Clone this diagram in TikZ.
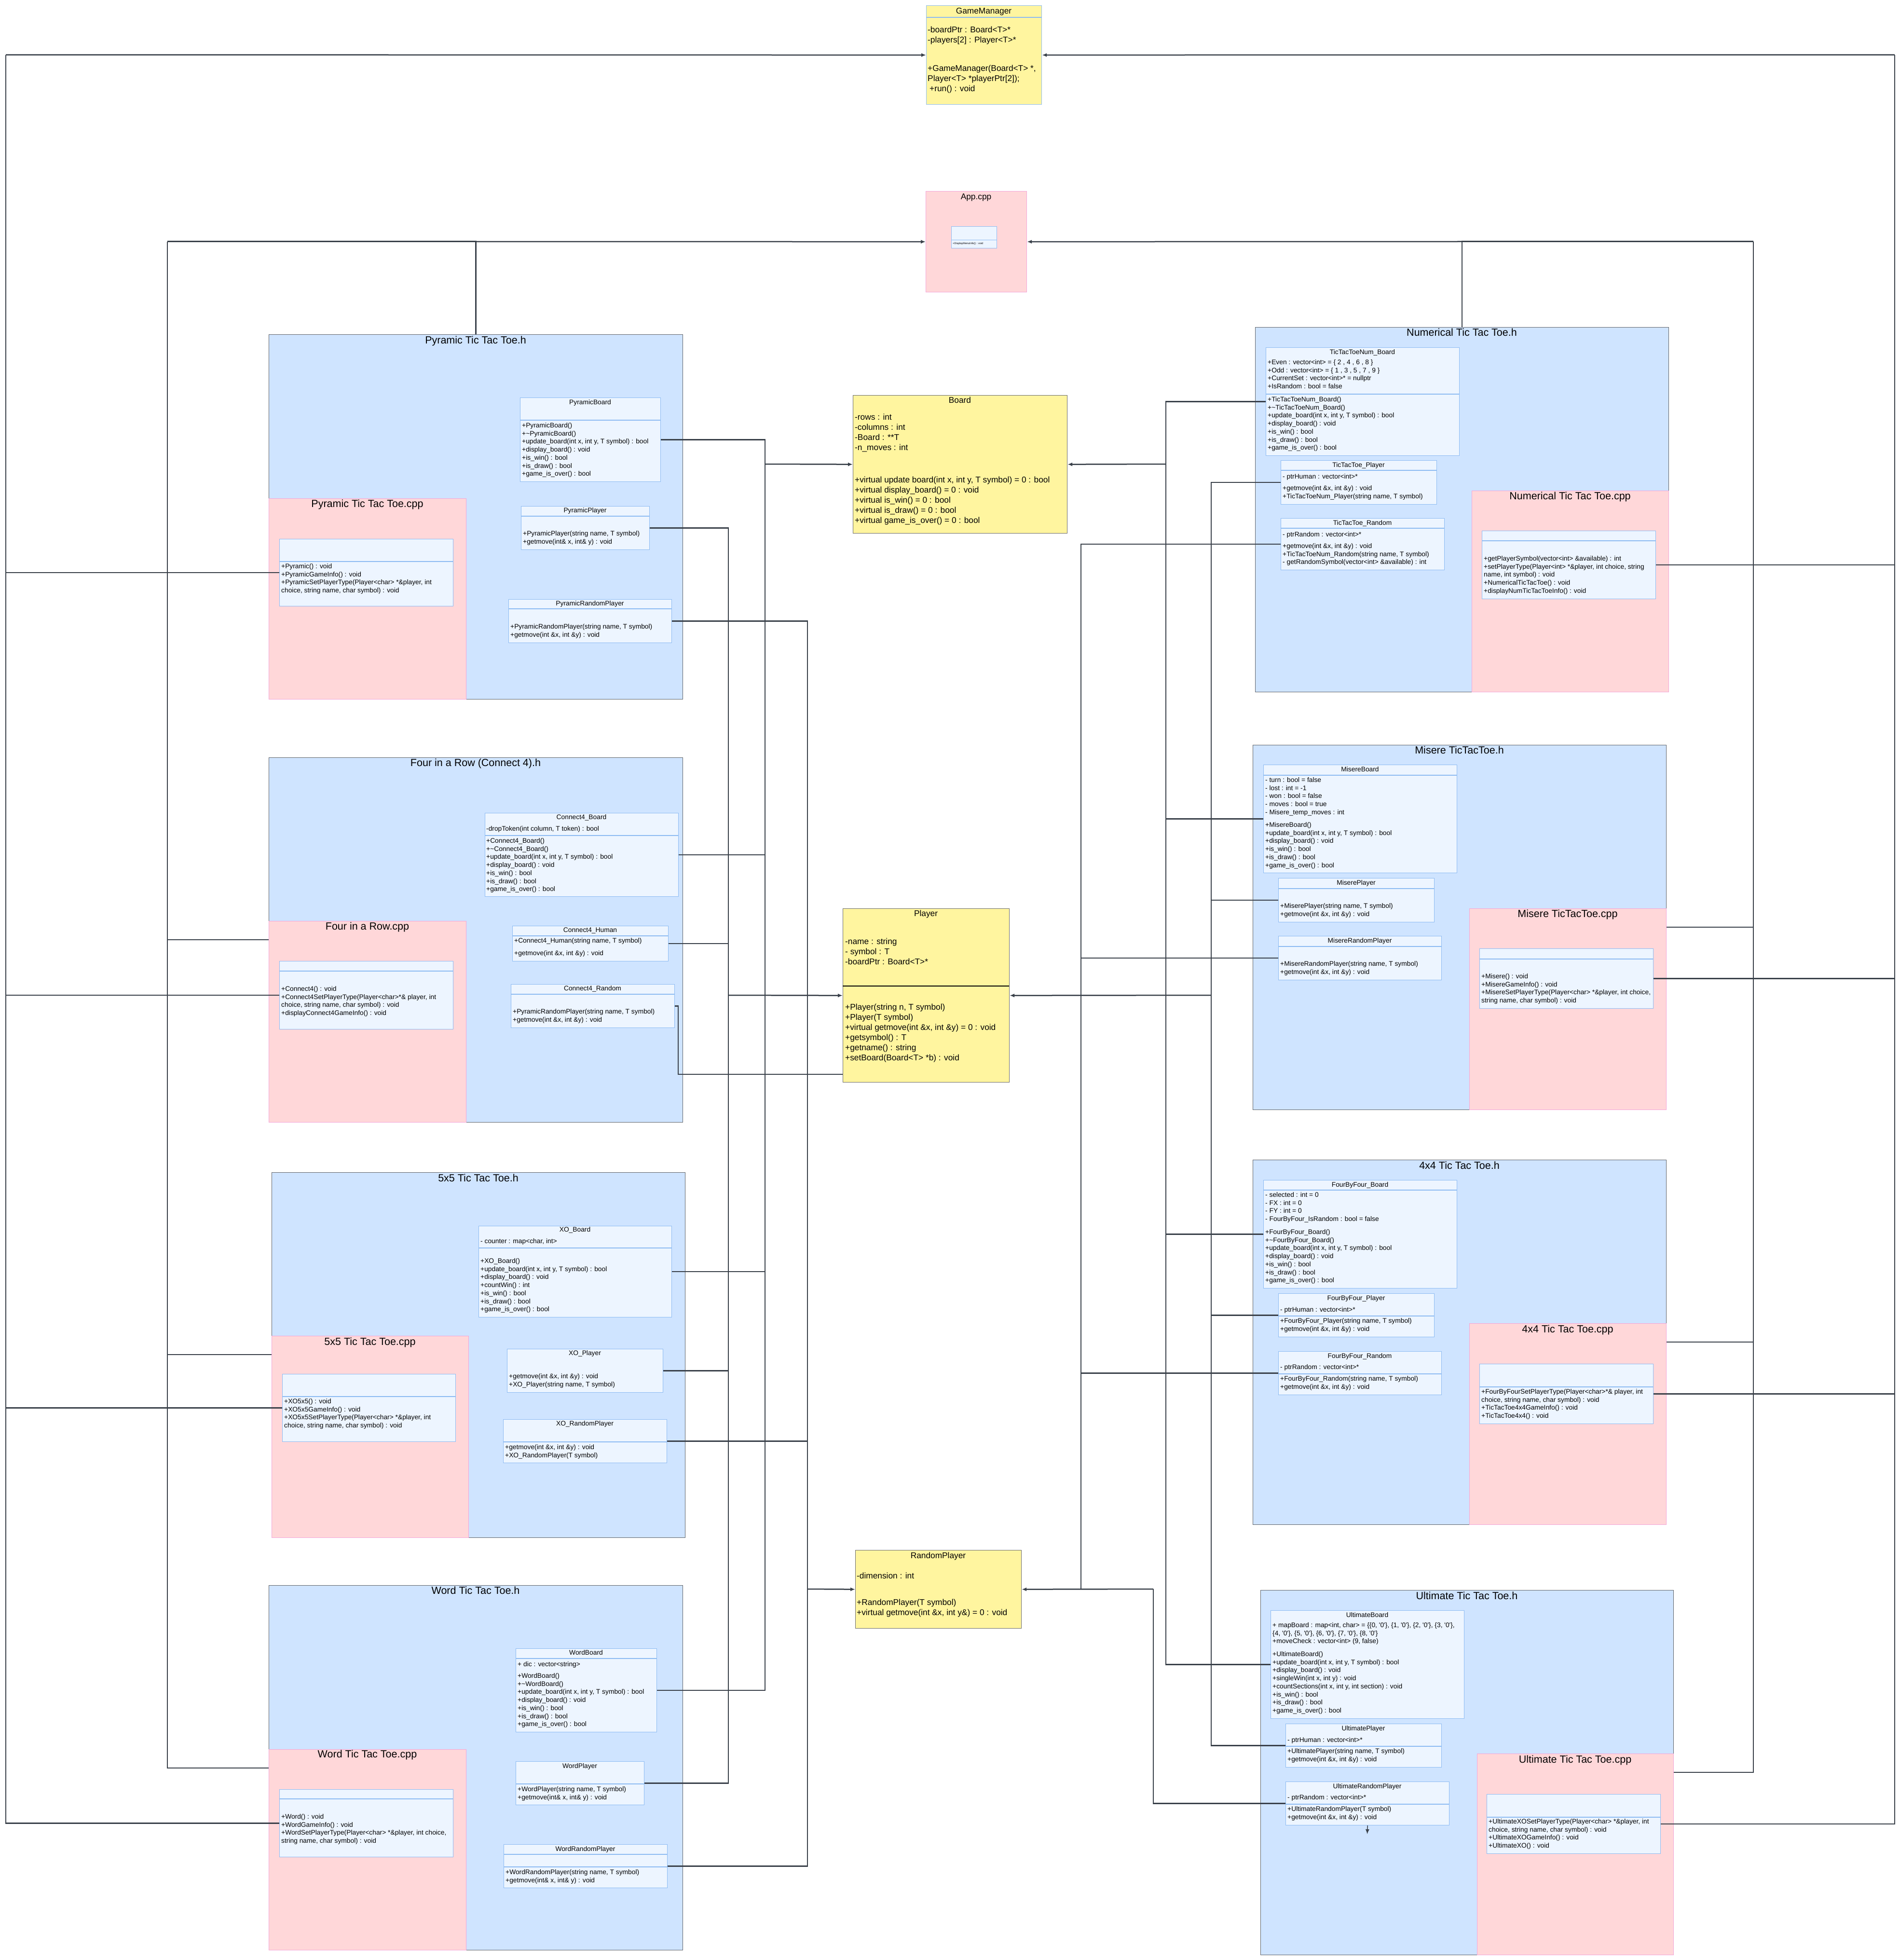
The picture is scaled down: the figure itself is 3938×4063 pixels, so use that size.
\documentclass[tikz,border=0pt]{standalone}
\usepackage{fontspec}
\setmainfont{Liberation Sans}
\usetikzlibrary{arrows.meta}

\definecolor{hfill}{HTML}{CFE4FF}
\definecolor{hdraw}{HTML}{5F6368}
\definecolor{cppfill}{HTML}{FFD7D9}
\definecolor{cppdraw}{HTML}{F3A6D8}
\definecolor{clsfill}{HTML}{EDF5FF}
\definecolor{clsdraw}{HTML}{8DBBF2}
\definecolor{yfill}{HTML}{FFF59F}
\definecolor{ydraw}{HTML}{6B6B6B}
\definecolor{wire}{HTML}{3A414A}

\newcommand{\pkgfont}{\fontsize{21.5}{26}\selectfont}
\newcommand{\clsfont}{\fontsize{13.8}{16.7}\selectfont}
\newcommand{\yfont}{\fontsize{17.3}{21}\selectfont}
\newcommand{\tinyfnt}{\fontsize{5.5}{6.6}\selectfont}
\newcommand{\tld}{\textasciitilde}
\newcommand{\sq}{\textquotesingle}

\tikzset{
  % boxes: placed by their top left corner, size in px
  wh/.style 2 args={minimum width=#1pt,minimum height=#2pt},
  hpkg/.style={rectangle,draw=hdraw,fill=hfill,line width=1.2pt,inner sep=0pt,anchor=north west},
  cpkg/.style={rectangle,draw=cppdraw,fill=cppfill,line width=1.2pt,inner sep=0pt,anchor=north west},
  cls/.style={rectangle,draw=clsdraw,fill=clsfill,line width=1.2pt,inner sep=0pt,anchor=north west},
  ybox/.style={rectangle,draw=ydraw,fill=yfill,line width=1.2pt,inner sep=0pt,anchor=north west},
  % texts: placed by the middle of their (first) line
  pkgtitle/.style={font=\pkgfont,anchor=base,inner sep=0pt,yshift=-7.7pt},
  ctitle/.style={font=\clsfont,anchor=base,inner sep=0pt,yshift=-5pt},
  ytitle/.style={font=\yfont,anchor=base,inner sep=0pt,yshift=-6.2pt},
  members/.style={font=\clsfont,anchor=north west,inner sep=0pt,align=left,yshift=6.7pt,execute at begin node=\strut},
  ymembers/.style={font=\yfont,anchor=north west,inner sep=0pt,align=left,yshift=8.5pt,execute at begin node=\strut},
  sepline/.style={draw=clsdraw,line width=1.2pt},
  % connectors
  link/.style={draw=wire,line width=2.5pt},
  assoc/.style={link,-{Latex[length=10pt,width=8pt]}},
}

\begin{document}
\begin{tikzpicture}[x=1pt,y=-1pt]
  \fill[white] (0,0) rectangle (3938,4063);
  \useasboundingbox (0,0) rectangle (3938,4063);

  % GameManager and App.cpp
  \node[ybox,draw=clsdraw,wh={239}{205}] (gm) at (1920,11) {};
  \draw[sepline] (1920,36) -- (2159,36);
  \node[ytitle] (gmT) at (2039.5,22) {GameManager};
  \node[ymembers] (gmA) at (1923,63) {-boardPtr : Board<T>*\\-players[2] : Player<T>*};
  \node[ymembers] (gmM) at (1923,143) {+GameManager(Board<T> *,\\Player<T> *playerPtr[2]);\\\hspace*{4pt}+run() : void};

  \node[cpkg,wh={209}{209}] (app) at (1919,396) {};
  \node[ytitle] (appT) at (2023.5,407) {App.cpp};
  \node[cls,line width=0.8pt,wh={94}{45}] (appMain) at (1972,469) {};
  \draw[sepline,line width=0.8pt] (1972,497) -- (2066,497);
  \node[font=\tinyfnt,anchor=west,inner sep=0pt] (appMainM) at (1975,505) {+DisplayMenuInfo() : void};

  % base classes
  \node[ybox,wh={444}{286}] (board) at (1768,819) {};
  \node[ytitle] (boardT) at (1990,829) {Board};
  \node[ymembers] (boardA) at (1772,866) {-rows : int\\-columns : int\\-Board : **T\\-n\_moves : int};
  \node[ymembers] (boardM) at (1772,996) {+virtual update board(int x, int y, T symbol) = 0 : bool\\+virtual display\_board() = 0 : void\\+virtual is\_win() = 0 : bool\\+virtual is\_draw() = 0 : bool\\+virtual game\_is\_over() = 0 : bool};

  \node[ybox,wh={345}{360}] (player) at (1747,1883) {};
  \draw[black,line width=1.5pt] (1747,2044) -- (2092,2044);
  \node[ytitle] (playerT) at (1919.5,1893) {Player};
  \node[ymembers] (playerA) at (1752,1953) {-name : string\\- symbol : T\\-boardPtr : Board<T>*};
  \node[ymembers] (playerM) at (1752,2089) {+Player(string n, T symbol)\\+Player(T symbol)\\+virtual getmove(int \&x, int \&y) = 0 : void\\+getsymbol() : T\\+getname() : string\\+setBoard(Board<T> *b) : void};

  \node[ybox,wh={344}{162}] (rp) at (1773,3213) {};
  \node[ytitle] (rpT) at (1945,3224) {RandomPlayer};
  \node[ymembers] (rpA) at (1776,3266) {-dimension : int};
  \node[ymembers] (rpM) at (1776,3323) {+RandomPlayer(T symbol)\\+virtual getmove(int \&x, int y\&) = 0 : void};

  % Pyramic Tic Tac Toe
  \node[hpkg,wh={858}{756}] (pyrH) at (557,693) {};
  \node[pkgtitle] (pyrHT) at (986,705) {Pyramic Tic Tac Toe.h};
  \node[cpkg,wh={409}{416}] (pyrCpp) at (557,1033) {};
  \node[pkgtitle] (pyrCppT) at (761.5,1044) {Pyramic Tic Tac Toe.cpp};
  \node[cls,wh={360}{139}] (pyrMain) at (579,1117) {};
  \draw[sepline] (579,1164) -- (939,1164);
  \node[members] (pyrMainM) at (583,1175) {+Pyramic() : void\\+PyramicGameInfo() : void\\+PyramicSetPlayerType(Player<char> *\&player, int\\choice, string name, char symbol) : void};
  \node[cls,wh={291}{174}] (pyrBoard) at (1078,824) {};
  \draw[sepline] (1078,871) -- (1369,871);
  \node[ctitle] (pyrBoardT) at (1223.5,833) {PyramicBoard};
  \node[members] (pyrBoardM) at (1082,883) {+PyramicBoard()\\+\tld PyramicBoard()\\+update\_board(int x, int y, T symbol) : bool\\+display\_board() : void\\+is\_win() : bool\\+is\_draw() : bool\\+game\_is\_over() : bool};
  \node[cls,wh={266}{90}] (pyrPlayer) at (1080,1049) {};
  \draw[sepline] (1080,1070) -- (1346,1070);
  \node[ctitle] (pyrPlayerT) at (1213,1057) {PyramicPlayer};
  \node[members] (pyrPlayerM) at (1084,1107) {+PyramicPlayer(string name, T symbol)\\+getmove(int\& x, int\& y) : void};
  \node[cls,wh={338}{90}] (pyrRandom) at (1054,1242) {};
  \draw[sepline] (1054,1262) -- (1392,1262);
  \node[ctitle] (pyrRandomT) at (1223,1250) {PyramicRandomPlayer};
  \node[members] (pyrRandomM) at (1058,1300) {+PyramicRandomPlayer(string name, T symbol)\\+getmove(int \&x, int \&y) : void};

  % Four in a Row
  \node[hpkg,wh={858}{756}] (fourH) at (557,1570) {};
  \node[pkgtitle] (fourHT) at (986,1581) {Four in a Row (Connect 4).h};
  \node[cpkg,wh={409}{417}] (fourCpp) at (557,1909) {};
  \node[pkgtitle] (fourCppT) at (761.5,1920) {Four in a Row.cpp};
  \node[cls,wh={360}{141}] (fourMain) at (579,1992) {};
  \draw[sepline] (579,2013) -- (939,2013);
  \node[members] (fourMainM) at (583,2051) {+Connect4() : void\\+Connect4SetPlayerType(Player<char>*\& player, int\\choice, string name, char symbol) : void\\+displayConnect4GameInfo() : void};
  \node[cls,wh={401}{173}] (c4Board) at (1005,1685) {};
  \draw[sepline] (1005,1732) -- (1406,1732);
  \node[ctitle] (c4BoardT) at (1205.5,1693) {Connect4\_Board};
  \node[members] (c4BoardA) at (1008,1717) {-dropToken(int column, T token) : bool};
  \node[members] (c4BoardM) at (1008,1744) {+Connect4\_Board()\\+\tld Connect4\_Board()\\+update\_board(int x, int y, T symbol) : bool\\+display\_board() : void\\+is\_win() : bool\\+is\_draw() : bool\\+game\_is\_over() : bool};
  \node[cls,wh={323}{73}] (c4Human) at (1062,1919) {};
  \draw[sepline] (1062,1940) -- (1385,1940);
  \node[ctitle] (c4HumanT) at (1223.5,1927) {Connect4\_Human};
  \node[members] (c4HumanM) at (1066,1951) {+Connect4\_Human(string name, T symbol)\\[9.3pt]+getmove(int \&x, int \&y) : void};
  \node[cls,wh={339}{90}] (c4Random) at (1059,2040) {};
  \draw[sepline] (1059,2061) -- (1398,2061);
  \node[ctitle] (c4RandomT) at (1228.5,2048) {Connect4\_Random};
  \node[members] (c4RandomM) at (1063,2098) {+PyramicRandomPlayer(string name, T symbol)\\+getmove(int \&x, int \&y) : void};

  % 5x5 Tic Tac Toe
  \node[hpkg,wh={857}{757}] (xoH) at (563,2430) {};
  \node[pkgtitle] (xoHT) at (991.5,2442) {5x5 Tic Tac Toe.h};
  \node[cpkg,wh={408}{418}] (xoCpp) at (563,2769) {};
  \node[pkgtitle] (xoCppT) at (767,2781) {5x5 Tic Tac Toe.cpp};
  \node[cls,wh={359}{140}] (xoMain) at (585,2848) {};
  \draw[sepline] (585,2895) -- (944,2895);
  \node[members] (xoMainM) at (589,2906) {+XO5x5() : void\\+XO5x5GameInfo() : void\\+XO5x5SetPlayerType(Player<char> *\&player, int\\choice, string name, char symbol) : void};
  \node[cls,wh={400}{189}] (xoBoard) at (992,2541) {};
  \draw[sepline] (992,2587) -- (1392,2587);
  \node[ctitle] (xoBoardT) at (1192,2548) {XO\_Board};
  \node[members] (xoBoardA) at (996,2572) {- counter : map<char, int>};
  \node[members] (xoBoardM) at (996,2615) {+XO\_Board()\\+update\_board(int x, int y, T symbol) : bool\\+display\_board() : void\\+countWin() : int\\+is\_win() : bool\\+is\_draw() : bool\\+game\_is\_over() : bool};
  \node[cls,wh={323}{90}] (xoPlayer) at (1051,2796) {};
  \node[ctitle] (xoPlayerT) at (1212.5,2804) {XO\_Player};
  \node[members] (xoPlayerM) at (1055,2854) {+getmove(int \&x, int \&y) : void\\+XO\_Player(string name, T symbol)};
  \node[cls,wh={339}{90}] (xoRandom) at (1043,2942) {};
  \draw[sepline] (1043,2989) -- (1382,2989);
  \node[ctitle] (xoRandomT) at (1212.5,2950) {XO\_RandomPlayer};
  \node[members] (xoRandomM) at (1047,3001) {+getmove(int \&x, int \&y) : void\\+XO\_RandomPlayer(T symbol)};

  % Word Tic Tac Toe
  \node[hpkg,wh={858}{756}] (wordH) at (557,3286) {};
  \node[pkgtitle] (wordHT) at (986,3297) {Word Tic Tac Toe.h};
  \node[cpkg,wh={409}{416}] (wordCpp) at (557,3626) {};
  \node[pkgtitle] (wordCppT) at (761.5,3636) {Word Tic Tac Toe.cpp};
  \node[cls,wh={360}{140}] (wordMain) at (579,3709) {};
  \draw[sepline] (579,3729) -- (939,3729);
  \node[members] (wordMainM) at (583,3767) {+Word() : void\\+WordGameInfo() : void\\+WordSetPlayerType(Player<char> *\&player, int choice,\\string name, char symbol) : void};
  \node[cls,wh={292}{173}] (wordBoard) at (1069,3417) {};
  \draw[sepline] (1069,3438) -- (1361,3438);
  \node[ctitle] (wordBoardT) at (1215,3425) {WordBoard};
  \node[members] (wordBoardA) at (1073,3449) {+ dic : vector<string>};
  \node[members] (wordBoardM) at (1073,3475) {+WordBoard()\\+\tld WordBoard()\\+update\_board(int x, int y, T symbol) : bool\\+display\_board() : void\\+is\_win() : bool\\+is\_draw() : bool\\+game\_is\_over() : bool};
  \node[cls,wh={266}{90}] (wordPlayer) at (1069,3651) {};
  \draw[sepline] (1069,3698) -- (1335,3698);
  \node[ctitle] (wordPlayerT) at (1202,3660) {WordPlayer};
  \node[members] (wordPlayerM) at (1073,3710) {+WordPlayer(string name, T symbol)\\+getmove(int\& x, int\& y) : void};
  \node[cls,wh={339}{90}] (wordRandom) at (1044,3823) {};
  \draw[sepline] (1044,3844) -- (1383,3844);
  \draw[sepline] (1044,3870) -- (1383,3870);
  \node[ctitle] (wordRandomT) at (1213.5,3832) {WordRandomPlayer};
  \node[members] (wordRandomM) at (1048,3882) {+WordRandomPlayer(string name, T symbol)\\+getmove(int\& x, int\& y) : void};

  % Numerical Tic Tac Toe
  \node[hpkg,wh={857}{756}] (numH) at (2602,678) {};
  \node[pkgtitle] (numHT) at (3030.5,689) {Numerical Tic Tac Toe.h};
  \node[cpkg,wh={408}{417}] (numCpp) at (3051,1017) {};
  \node[pkgtitle] (numCppT) at (3255,1028) {Numerical Tic Tac Toe.cpp};
  \node[cls,wh={360}{141}] (numMain) at (3072,1100) {};
  \draw[sepline] (3072,1121) -- (3432,1121);
  \node[members] (numMainM) at (3076,1159) {+getPlayerSymbol(vector<int> \&available) : int\\+setPlayerType(Player<int> *\&player, int choice, string\\name, int symbol) : void\\+NumericalTicTacToe() : void\\+displayNumTicTacToeInfo() : void};
  \node[cls,wh={401}{224}] (numBoard) at (2624,720) {};
  \draw[sepline] (2624,817) -- (3025,817);
  \node[ctitle] (numBoardT) at (2824.5,729) {TicTacToeNum\_Board};
  \node[members] (numBoardA) at (2628,752) {+Even : vector<int> = \{ 2 , 4 , 6 , 8 \}\\+Odd : vector<int> = \{ 1 , 3 , 5 , 7 , 9 \}\\+CurrentSet : vector<int>* = nullptr\\+IsRandom : bool = false};
  \node[members] (numBoardM) at (2628,829) {+TicTacToeNum\_Board()\\+\tld TicTacToeNum\_Board()\\+update\_board(int x, int y, T symbol) : bool\\+display\_board() : void\\+is\_win() : bool\\+is\_draw() : bool\\+game\_is\_over() : bool};
  \node[cls,wh={323}{91}] (numPlayer) at (2655,954) {};
  \draw[sepline] (2655,975) -- (2978,975);
  \node[ctitle] (numPlayerT) at (2816.5,963) {TicTacToe\_Player};
  \node[members] (numPlayerA) at (2659,987) {- ptrHuman : vector<int>*};
  \node[members] (numPlayerM) at (2659,1013) {+getmove(int \&x, int \&y) : void\\+TicTacToeNum\_Player(string name, T symbol)};
  \node[cls,wh={339}{107}] (numRandom) at (2655,1074) {};
  \draw[sepline] (2655,1095) -- (2994,1095);
  \node[ctitle] (numRandomT) at (2824.5,1083) {TicTacToe\_Random};
  \node[members] (numRandomA) at (2659,1107) {- ptrRandom : vector<int>*};
  \node[members] (numRandomM) at (2659,1133) {+getmove(int \&x, int \&y) : void\\+TicTacToeNum\_Random(string name, T symbol)\\- getRandomSymbol(vector<int> \&available) : int};

  % Misere TicTacToe
  \node[hpkg,wh={857}{756}] (misH) at (2597,1544) {};
  \node[pkgtitle] (misHT) at (3025.5,1555) {Misere TicTacToe.h};
  \node[cpkg,wh={408}{417}] (misCpp) at (3046,1883) {};
  \node[pkgtitle] (misCppT) at (3250,1894) {Misere TicTacToe.cpp};
  \node[cls,wh={360}{124}] (misMain) at (3067,1966) {};
  \draw[sepline] (3067,1988) -- (3427,1988);
  \node[members] (misMainM) at (3071,2025) {+Misere() : void\\+MisereGameInfo() : void\\+MisereSetPlayerType(Player<char> *\&player, int choice,\\string name, char symbol) : void};
  \node[cls,wh={401}{224}] (misBoard) at (2619,1585) {};
  \draw[sepline] (2619,1607) -- (3020,1607);
  \node[ctitle] (misBoardT) at (2819.5,1594) {MisereBoard};
  \node[members] (misBoardA) at (2623,1618) {- turn : bool = false\\- lost : int = -1\\- won : bool = false\\- moves : bool = true\\- Misere\_temp\_moves : int};
  \node[members] (misBoardM) at (2623,1711) {+MisereBoard()\\+update\_board(int x, int y, T symbol) : bool\\+display\_board() : void\\+is\_win() : bool\\+is\_draw() : bool\\+game\_is\_over() : bool};
  \node[cls,wh={323}{91}] (misPlayer) at (2650,1820) {};
  \draw[sepline] (2650,1842) -- (2973,1842);
  \node[ctitle] (misPlayerT) at (2811.5,1829) {MiserePlayer};
  \node[members] (misPlayerM) at (2654,1879) {+MiserePlayer(string name, T symbol)\\+getmove(int \&x, int \&y) : void};
  \node[cls,wh={338}{91}] (misRandom) at (2650,1940) {};
  \draw[sepline] (2650,1962) -- (2988,1962);
  \node[ctitle] (misRandomT) at (2819,1949) {MisereRandomPlayer};
  \node[members] (misRandomM) at (2654,1999) {+MisereRandomPlayer(string name, T symbol)\\+getmove(int \&x, int \&y) : void};

  % 4x4 Tic Tac Toe
  \node[hpkg,wh={857}{756}] (fbfH) at (2597,2404) {};
  \node[pkgtitle] (fbfHT) at (3025.5,2416) {4x4 Tic Tac Toe.h};
  \node[cpkg,wh={408}{417}] (fbfCpp) at (3046,2743) {};
  \node[pkgtitle] (fbfCppT) at (3250,2755) {4x4 Tic Tac Toe.cpp};
  \node[cls,wh={360}{124}] (fbfMain) at (3067,2827) {};
  \draw[sepline] (3067,2875) -- (3427,2875);
  \node[members] (fbfMainM) at (3071,2886) {+FourByFourSetPlayerType(Player<char>*\& player, int\\choice, string name, char symbol) : void\\+TicTacToe4x4GameInfo() : void\\+TicTacToe4x4() : void};
  \node[cls,wh={401}{224}] (fbfBoard) at (2619,2446) {};
  \draw[sepline] (2619,2467) -- (3020,2467);
  \node[ctitle] (fbfBoardT) at (2819.5,2455) {FourByFour\_Board};
  \node[members] (fbfBoardA) at (2623,2478) {- selected : int = 0\\- FX : int = 0\\- FY : int = 0\\- FourByFour\_IsRandom : bool = false};
  \node[members] (fbfBoardM) at (2623,2555) {+FourByFour\_Board()\\+\tld FourByFour\_Board()\\+update\_board(int x, int y, T symbol) : bool\\+display\_board() : void\\+is\_win() : bool\\+is\_draw() : bool\\+game\_is\_over() : bool};
  \node[cls,wh={323}{90}] (fbfPlayer) at (2650,2681) {};
  \draw[sepline] (2650,2728) -- (2973,2728);
  \node[ctitle] (fbfPlayerT) at (2811.5,2690) {FourByFour\_Player};
  \node[members] (fbfPlayerA) at (2654,2714) {- ptrHuman : vector<int>*};
  \node[members] (fbfPlayerM) at (2654,2739) {+FourByFour\_Player(string name, T symbol)\\+getmove(int \&x, int \&y) : void};
  \node[cls,wh={338}{90}] (fbfRandom) at (2650,2801) {};
  \draw[sepline] (2650,2848) -- (2988,2848);
  \node[ctitle] (fbfRandomT) at (2819,2810) {FourByFour\_Random};
  \node[members] (fbfRandomA) at (2654,2833) {- ptrRandom : vector<int>*};
  \node[members] (fbfRandomM) at (2654,2859) {+FourByFour\_Random(string name, T symbol)\\+getmove(int \&x, int \&y) : void};

  % Ultimate Tic Tac Toe
  \node[hpkg,wh={856}{756}] (ultH) at (2613,3296) {};
  \node[pkgtitle] (ultHT) at (3041,3308) {Ultimate Tic Tac Toe.h};
  \node[cpkg,wh={407}{417}] (ultCpp) at (3062,3635) {};
  \node[pkgtitle] (ultCppT) at (3265.5,3647) {Ultimate Tic Tac Toe.cpp};
  \node[cls,wh={360}{123}] (ultMain) at (3082,3719) {};
  \draw[sepline] (3082,3767) -- (3442,3767);
  \node[members] (ultMainM) at (3086,3777) {+UltimateXOSetPlayerType(Player<char> *\&player, int\\choice, string name, char symbol) : void\\+UltimateXOGameInfo() : void\\+UltimateXO() : void};
  \node[cls,wh={401}{224}] (ultBoard) at (2634,3338) {};
  \node[ctitle] (ultBoardT) at (2834.5,3347) {UltimateBoard};
  \node[members] (ultBoardA) at (2638,3370) {+ mapBoard : map<int, char> = \{\{0, \sq0\sq\}, \{1, \sq0\sq\}, \{2, \sq0\sq\}, \{3, \sq0\sq\},\\\{4, \sq0\sq\}, \{5, \sq0\sq\}, \{6, \sq0\sq\}, \{7, \sq0\sq\}, \{8, \sq0\sq\}\\+moveCheck : vector<int> (9, false)};
  \node[members] (ultBoardM) at (2638,3430) {+UltimateBoard()\\+update\_board(int x, int y, T symbol) : bool\\+display\_board() : void\\+singleWin(int x, int y) : void\\+countSections(int x, int y, int section) : void\\+is\_win() : bool\\+is\_draw() : bool\\+game\_is\_over() : bool};
  \node[cls,wh={323}{90}] (ultPlayer) at (2665,3573) {};
  \draw[sepline] (2665,3620) -- (2988,3620);
  \node[ctitle] (ultPlayerT) at (2826.5,3582) {UltimatePlayer};
  \node[members] (ultPlayerA) at (2669,3606) {- ptrHuman : vector<int>*};
  \node[members] (ultPlayerM) at (2669,3631) {+UltimatePlayer(string name, T symbol)\\+getmove(int \&x, int \&y) : void};
  \node[cls,wh={339}{90}] (ultRandom) at (2665,3693) {};
  \draw[sepline] (2665,3740) -- (3004,3740);
  \node[ctitle] (ultRandomT) at (2834.5,3702) {UltimateRandomPlayer};
  \node[members] (ultRandomA) at (2669,3725) {- ptrRandom : vector<int>*};
  \node[members] (ultRandomM) at (2669,3751) {+UltimateRandomPlayer(T symbol)\\+getmove(int \&x, int \&y) : void};

  % bus corners
  \coordinate (gmL) at (12,113.5);
  \coordinate (gmR) at (3928,113.5);
  \coordinate (appL) at (347,500.5);
  \coordinate (appR) at (3635,500.5);
  \coordinate (boardL) at (1586,962);
  \coordinate (boardR) at (2417,962);
  \coordinate (playerL) at (1510,2063);
  \coordinate (playerR) at (2511,2063);
  \coordinate (rpL) at (1674,3294);
  \coordinate (rpR) at (2241,3294);
  \coordinate (rpR2) at (2391,3294);
  \coordinate (c4Turn) at (1406,2227);
  \coordinate (ultStub) at (2834.5,3802);

  % cpp files -> GameManager
  \draw[link] (pyrMain.west) -| (gmL) (fourMain.west) -| (gmL) (xoMain.west) -| (gmL) (wordMain.west) -| (gmL);
  \draw[assoc] (gmL) -- (gm.west);
  \draw[link] (numMain.east) -| (gmR) (misMain.east) -| (gmR) (fbfMain.east) -| (gmR) (ultMain.east) -| (gmR);
  \draw[assoc] (gmR) -- (gm.east);

  % packages -> App.cpp
  \draw[link] (pyrH.north) |- (appL);
  \draw[link] ([yshift=-39pt]fourCpp.north west) -| (appL) ([yshift=-39pt]xoCpp.north west) -| (appL) ([yshift=-39pt]wordCpp.north west) -| (appL);
  \draw[assoc] (appL) -- (app.west);
  \draw[link] (numH.north) |- (appR);
  \draw[link] ([yshift=-39pt]misCpp.north east) -| (appR) ([yshift=-39pt]fbfCpp.north east) -| (appR) ([yshift=-39pt]ultCpp.north east) -| (appR);
  \draw[assoc] (appR) -- (app.east);

  % boards -> Board
  \draw[link] (pyrBoard.east) -| (boardL) (c4Board.east) -| (boardL) (xoBoard.east) -| (boardL) (wordBoard.east) -| (boardL);
  \draw[assoc] (boardL) -- (board.west);
  \draw[link] (numBoard.west) -| (boardR) (misBoard.west) -| (boardR) (fbfBoard.west) -| (boardR) (ultBoard.west) -| (boardR);
  \draw[assoc] (boardR) -- (board.east);

  % players -> Player
  \draw[link] (pyrPlayer.east) -| (playerL) (c4Human.east) -| (playerL) (xoPlayer.east) -| (playerL) (wordPlayer.east) -| (playerL);
  \draw[assoc] (playerL) -- (player.west);
  \draw[link] (c4Random.east) -| (c4Turn) -- (c4Turn -| player.west);
  \draw[link] (numPlayer.west) -| (playerR) (misPlayer.west) -| (playerR) (fbfPlayer.west) -| (playerR) (ultPlayer.west) -| (playerR);
  \draw[assoc] (playerR) -- (player.east);

  % random players -> RandomPlayer
  \draw[link] (pyrRandom.east) -| (rpL) (xoRandom.east) -| (rpL) (wordRandom.east) -| (rpL);
  \draw[assoc] (rpL) -- (rp.west);
  \draw[link] (numRandom.west) -| (rpR) (misRandom.west) -| (rpR) (fbfRandom.west) -| (rpR);
  \draw[link] (ultRandom.west) -| (rpR2);
  \draw[assoc] (rpR2) -- (rp.east);
  \draw[assoc,line width=1.5pt] (ultRandom.south) -- (ultStub);
\end{tikzpicture}
\end{document}
